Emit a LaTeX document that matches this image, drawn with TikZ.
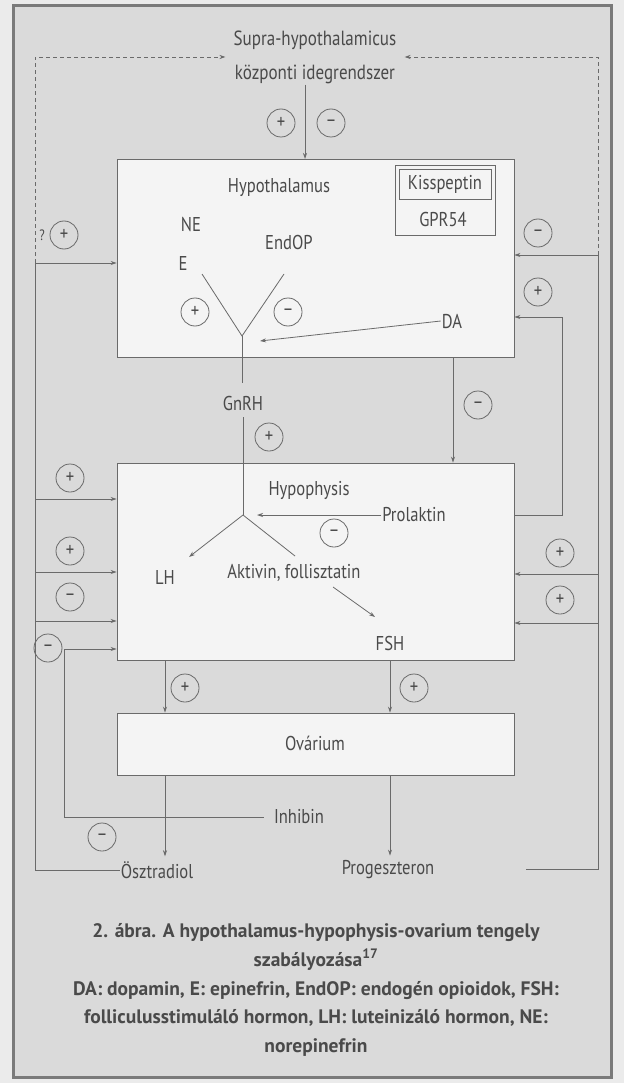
\documentclass[tikz,border=0pt]{standalone}
\usepackage{fontspec}
\setmainfont{PT Sans}[FakeStretch=0.83]
\newfontfamily\capfont{PT Sans}
\usetikzlibrary{arrows.meta,positioning,calc}
\definecolor{inkc}{HTML}{4A4A4A}
\definecolor{linec}{HTML}{6A6A6A}
\definecolor{panelc}{HTML}{DADADA}
\definecolor{edgec}{HTML}{EBEBEB}
\definecolor{framec}{HTML}{7A7A7A}
\definecolor{boxc}{HTML}{F4F4F4}
\tikzset{
  organ/.style={draw=linec, fill=boxc, line width=0.9pt, inner sep=0pt},
  lbl/.style={text=inkc, inner sep=1pt, font=\fontsize{20}{24}\selectfont},
  sign/.style={circle, draw=linec, line width=0.8pt, minimum size=28pt,
               inner sep=0pt, text=inkc, font=\fontsize{20}{20}\selectfont},
  link/.style={draw=linec, line width=0.8pt, -{Stealth[length=6pt,width=4pt]}},
  plain/.style={draw=linec, line width=0.8pt},
  dlink/.style={link, dash pattern=on 4pt off 3pt}
}

\begin{document}
\begin{tikzpicture}[x=1pt,y=-1pt]
  \useasboundingbox (0,0) rectangle (624,1083);
  \fill[edgec] (0,0) rectangle (624,1083);
  \draw[framec, line width=3pt, fill=panelc] (13,6) rectangle (611,1077);

  % organs
  \node[organ, minimum width=397pt, minimum height=198pt] (hypoth) at (315.5,258) {};
  \node[organ, minimum width=397pt, minimum height=197pt] (hypoph) at (315.5,561.5) {};
  \node[organ, minimum width=397pt, minimum height=62pt] (ovar) at (315.5,744) {};
  \node[lbl] (hypothlbl) at (279,188) {Hypothalamus};
  \node[lbl] (hypophlbl) at (309,490) {Hypophysis};
  \node[lbl] (ovarlbl) at (315,743) {Ovárium};

  % kisspeptin
  \node[draw=linec, line width=0.8pt, minimum width=100pt, minimum height=70pt] (kissbox) at (445,200) {};
  \node[lbl, draw=linec, line width=0.8pt, minimum width=92pt, minimum height=30pt] (kiss) at (445,184) {Kisspeptin};
  \node[lbl] (gpr) at (443,219) {GPR54};

  % central nervous system
  \node[lbl, align=center, inner xsep=8pt, font=\fontsize{20.5}{34}\selectfont] (cns) at (315,57)
    {Supra-hypothalamicus\\központi idegrendszer};
  \coordinate (lcorner) at (35,263);
  \coordinate (rcorner) at (598,255);
  \coordinate (hyptop) at (305,159);
  \draw[dlink] (lcorner) |- (cns.west);
  \draw[dlink] (rcorner) |- (cns.east);
  \draw[link] (cns.south -| hyptop) -- (hyptop);
  \node[sign] (cnsplus) at (281,123) {+};
  \node[sign] (cnsminus) at (331,123) {–};

  % inside hypothalamus
  \node[lbl] (ne) at (191,225) {NE};
  \node[lbl] (endop) at (289,243) {EndOP};
  \node[lbl] (epi) at (183,263) {E};
  \node[lbl] (da) at (452,321) {DA};
  \node[lbl] (gnrh) at (243,403) {GnRH};
  \coordinate (yleft) at (202,274);
  \coordinate (yright) at (284,274);
  \coordinate (yjoin) at (242,336);
  \coordinate (daend) at (260,341);
  \draw[plain] (yleft) -- (yjoin) -- (yright);
  \draw[plain] (yjoin) -- ([yshift=12pt]gnrh.north -| yjoin);
  \draw[link] (da.west) -- (daend);
  \node[sign] (neplus) at (195,312) {+};
  \node[sign] (endopminus) at (288,312) {–};
  \node[sign] (gnrhplus) at (269,437) {+};

  % inside hypophysis
  \node[lbl] (prl) at (414,515) {Prolaktin};
  \node[lbl] (lh) at (165,577) {LH};
  \node[lbl] (akt) at (294,573) {Aktivin, follisztatin};
  \node[lbl] (fsh) at (390,643) {FSH};
  \coordinate (hjoin) at (243,515);
  \coordinate (lhend) at (189,557);
  \coordinate (aktend) at (295,556);
  \coordinate (aktout) at (333,587);
  \coordinate (fshin) at (375,617);
  \draw[plain] ([yshift=-6pt]gnrh.south) -- (hjoin);
  \draw[link] (prl.west) -- ([xshift=14pt]hjoin);
  \draw[link] (hjoin) -- (lhend);
  \draw[plain] (hjoin) -- (aktend);
  \draw[link] (aktout) -- (fshin);
  \node[sign] (prlminus) at (334,533) {–};

  % hypothalamus to hypophysis
  \coordinate (hhx) at (453,0);
  \draw[link] (hypoth.south -| hhx) -- (hypoph.north -| hhx);
  \node[sign] (hhminus) at (478,405) {–};

  % hypophysis to ovary
  \draw[link] (hypoph.south -| lh) -- (ovar.north -| lh);
  \draw[link] (hypoph.south -| fsh) -- (ovar.north -| fsh);
  \node[sign] (lhplus) at (185,688) {+};
  \node[sign] (fshplus) at (414,688) {+};

  % ovarian hormones
  \node[lbl] (osztr) at (157,870) {Ösztradiol};
  \node[lbl] (prog) at (388,870) {Progeszteron};
  \node[lbl, inner xsep=10pt] (inhibin) at (299,817) {Inhibin};
  \draw[link] (ovar.south -| lh) -- ([yshift=4pt]osztr.north -| lh);
  \draw[link] (ovar.south -| fsh) -- ([yshift=4pt]prog.north -| fsh);

  % left feedback
  \node (qmark) [lbl, font=\fontsize{15}{15}\selectfont] at (42,235) {?};
  \node[sign] (qplus) at (64,235) {+};
  \draw[link] (lcorner) -- (lcorner -| hypoth.west);
  \draw[plain] (lcorner) |- (osztr.west);
  \coordinate (ltapA) at (35,499);
  \coordinate (ltapB) at (35,572);
  \coordinate (ltapC) at (35,621);
  \coordinate (ltapD) at (64,649);
  \draw[link] (ltapA) -- (ltapA -| hypoph.west);
  \draw[link] (ltapB) -- (ltapB -| hypoph.west);
  \draw[link] (ltapC) -- (ltapC -| hypoph.west);
  \draw[link] (inhibin.west) -| (ltapD) -- (ltapD -| hypoph.west);
  \node[sign] (lplusA) at (70,478) {+};
  \node[sign] (lplusB) at (70,551) {+};
  \node[sign] (lminusC) at (70,597) {–};
  \node[sign] (lminusD) at (48,648) {–};
  \node[sign] (inhminus) at (102,837) {–};

  % right feedback
  \coordinate (rend) at (526,869);
  \coordinate (prlturn) at (562,317);
  \coordinate (rtapA) at (598,574);
  \coordinate (rtapB) at (598,623);
  \draw[link] (rcorner) -- (rcorner -| hypoth.east);
  \draw[plain] (rcorner) |- (rend);
  \draw[link] (hypoph.east |- prl) -| (prlturn) -- (prlturn -| hypoth.east);
  \draw[link] (rtapA) -- (rtapA -| hypoph.east);
  \draw[link] (rtapB) -- (rtapB -| hypoph.east);
  \node[sign] (rminus) at (538,233) {–};
  \node[sign] (rplus) at (538,292) {+};
  \node[sign] (rplusA) at (560,553) {+};
  \node[sign] (rplusB) at (560,600) {+};

  % caption
  \node[text=inkc, align=center, font=\capfont\fontsize{19.5}{28.7}\selectfont\bfseries] (caption) at (316,990)
    {2. ábra. A hypothalamus-hypophysis-ovarium tengely\\
     szabályozása\textsuperscript{17}\\
     DA: dopamin, E: epinefrin, EndOP: endogén opioidok, FSH:\\
     folliculusstimuláló hormon, LH: luteinizáló hormon, NE:\\
     norepinefrin};
\end{tikzpicture}
\end{document}
